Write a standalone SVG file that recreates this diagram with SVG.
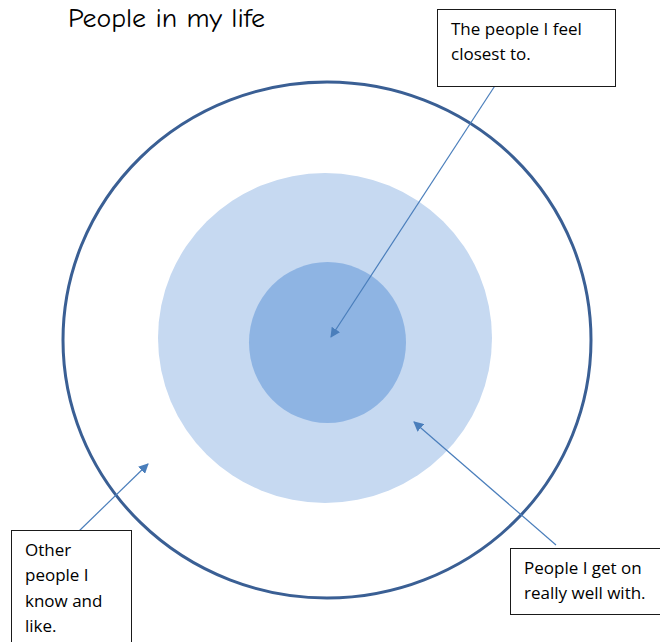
<svg xmlns="http://www.w3.org/2000/svg" width="660" height="642" viewBox="0 0 660 642">
<defs>
<style>
.box{fill:#fff;stroke:#1a1a1a;stroke-width:1}
.lbl{font-family:"Open Sans","Liberation Sans",sans-serif;font-size:17px;fill:#000}
.conn{stroke:#4A7EBB;stroke-width:1.2;fill:none;marker-end:url(#ah)}
</style>
<marker id="ah" viewBox="0 0 10 10" refX="9" refY="5" markerWidth="10" markerHeight="10" markerUnits="userSpaceOnUse" orient="auto">
<path d="M0,0 L10,5 L0,10 z" fill="#4A7EBB"/>
</marker>
</defs>
<rect width="660" height="642" fill="#fff"/>
<text x="68" y="27" font-family="'Comic Neue','Liberation Sans',sans-serif" font-size="26" textLength="197" lengthAdjust="spacingAndGlyphs" fill="#000">People in my life</text>
<g id="outer-circle"><ellipse cx="327" cy="340" rx="264" ry="258" fill="none" stroke="#3A5F94" stroke-width="3"/></g>
<g id="middle-circle"><ellipse cx="325" cy="338" rx="167" ry="165" fill="#C6D9F1"/></g>
<g id="inner-circle"><ellipse cx="327.5" cy="342.5" rx="78.5" ry="80.5" fill="#8EB4E3"/></g>
<g id="connectors">
<line class="conn" x1="500" y1="78" x2="331" y2="337"/>
<line class="conn" x1="556" y1="545" x2="414" y2="422"/>
<line class="conn" x1="78" y1="532" x2="148" y2="464"/>
</g>
<g id="box-closest">
<rect class="box" x="437.5" y="9.5" width="178" height="77"/>
<text class="lbl" x="451" y="35">The people I feel</text>
<text class="lbl" x="451" y="60">closest to.</text>
</g>
<g id="box-well">
<rect class="box" x="510.5" y="548.5" width="160" height="66"/>
<text class="lbl" x="524" y="574">People I get on</text>
<text class="lbl" x="524" y="599">really well with.</text>
</g>
<g id="box-other">
<rect class="box" x="11.5" y="530.5" width="120" height="120"/>
<text class="lbl" x="25" y="556">Other</text>
<text class="lbl" x="25" y="581">people I</text>
<text class="lbl" x="25" y="607">know and</text>
<text class="lbl" x="25" y="632">like.</text>
</g>
</svg>
